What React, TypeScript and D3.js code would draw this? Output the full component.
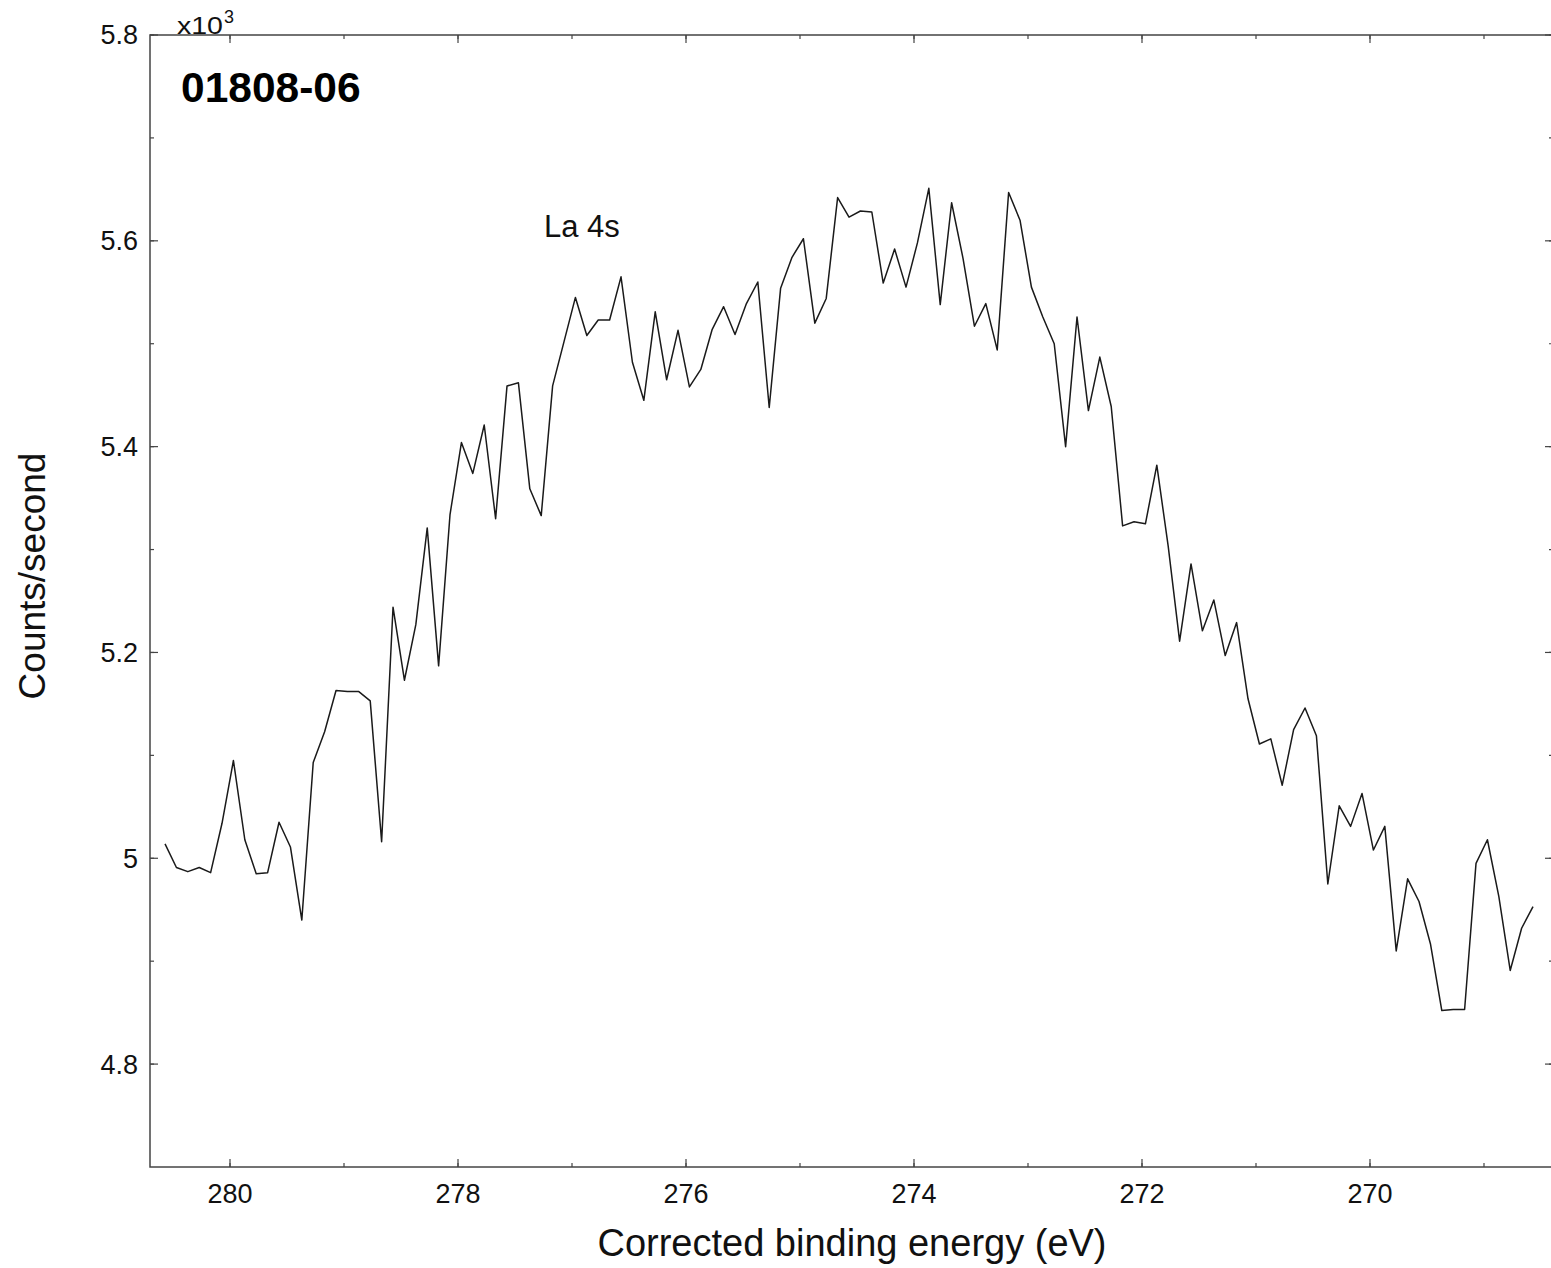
import React from "react";
import * as d3 from "d3";

// Binding energy grid (eV): first point and spacing of the acquisition
const energyStart = 280.57;
const energyStep = -0.1;

// Counts/second (x10^3)
const counts: number[] = [
  5.014, 4.991, 4.987, 4.991, 4.986, 5.034, 5.095, 5.018, 4.985, 4.986,
  5.035, 5.011, 4.940, 5.093, 5.123, 5.163, 5.162, 5.162, 5.153, 5.016,
  5.244, 5.173, 5.227, 5.321, 5.187, 5.334, 5.404, 5.374, 5.421, 5.330,
  5.459, 5.462, 5.359, 5.333, 5.459, 5.502, 5.545, 5.508, 5.523, 5.523,
  5.565, 5.482, 5.445, 5.531, 5.465, 5.513, 5.458, 5.475, 5.514, 5.536,
  5.509, 5.539, 5.560, 5.438, 5.554, 5.584, 5.602, 5.520, 5.544, 5.642,
  5.623, 5.629, 5.628, 5.559, 5.592, 5.555, 5.598, 5.651, 5.538, 5.637,
  5.583, 5.517, 5.539, 5.494, 5.647, 5.620, 5.555, 5.526, 5.500, 5.400,
  5.526, 5.435, 5.487, 5.439, 5.323, 5.327, 5.325, 5.382, 5.303, 5.211,
  5.286, 5.221, 5.251, 5.197, 5.229, 5.155, 5.111, 5.116, 5.071, 5.125,
  5.146, 5.119, 4.975, 5.051, 5.031, 5.063, 5.008, 5.031, 4.910, 4.980,
  4.958, 4.917, 4.852, 4.853, 4.853, 4.995, 5.018, 4.963, 4.891, 4.932,
  4.953,
];

const xMajorTicks = [280, 278, 276, 274, 272, 270];
const xMinorTicks = [280, 279, 278, 277, 276, 275, 274, 273, 272, 271, 270, 269];
const yMajorTicks = [4.8, 5.0, 5.2, 5.4, 5.6, 5.8];
const yMinorTicks = [4.8, 4.9, 5.0, 5.1, 5.2, 5.3, 5.4, 5.5, 5.6, 5.7, 5.8];

const sampleName = "01808-06";
const peakLabel = "La 4s";
const xTitle = "Corrected binding energy (eV)";
const yTitle = "Counts/second";

export default function App() {
  const W = 1551, H = 1268;
  const left = 150, right = 1553, top = 35, bottom = 1167;
  const font = "Liberation Sans, Arial, Helvetica, sans-serif";
  const axisColor = "#444";

  const x = d3.scaleLinear().domain([280.7018, 268.3947]).range([left, right]);
  const y = d3.scaleLinear().domain([4.7, 5.8]).range([bottom, top]);

  const pts = counts.map((c, i) => [energyStart + energyStep * i, c] as [number, number]);
  const line = d3.line<[number, number]>().x(d => x(d[0])).y(d => y(d[1]));

  const fmtY = (v: number) => (Math.abs(v - 5) < 1e-9 ? "5" : v.toFixed(1));
  const majLen = 8, minLen = 4;

  return (
    <svg width={W} height={H} style={{ position: "absolute", left: 0, top: 0, background: "#fff" }}>
      <rect x={0} y={0} width={W} height={H} fill="#fff" />
      {/* frame */}
      <rect x={left} y={top} width={right - left} height={bottom - top} fill="none" stroke={axisColor} strokeWidth={1.5} />
      {/* x ticks */}
      {xMinorTicks.map(t => (
        <g key={"xm" + t}>
          <line x1={x(t)} x2={x(t)} y1={bottom} y2={bottom - minLen} stroke={axisColor} strokeWidth={1.2} />
          <line x1={x(t)} x2={x(t)} y1={top} y2={top + minLen} stroke={axisColor} strokeWidth={1.2} />
        </g>
      ))}
      {xMajorTicks.map(t => (
        <g key={"xM" + t}>
          <line x1={x(t)} x2={x(t)} y1={bottom} y2={bottom - majLen} stroke={axisColor} strokeWidth={1.2} />
          <line x1={x(t)} x2={x(t)} y1={top} y2={top + majLen} stroke={axisColor} strokeWidth={1.2} />
          <text x={x(t)} y={bottom + 36} textAnchor="middle" fontFamily={font} fontSize={27} fill="#111">{t}</text>
        </g>
      ))}
      {/* y ticks */}
      {yMinorTicks.map(t => (
        <g key={"ym" + t}>
          <line x1={left} x2={left + minLen} y1={y(t)} y2={y(t)} stroke={axisColor} strokeWidth={1.2} />
          <line x1={right} x2={right - minLen} y1={y(t)} y2={y(t)} stroke={axisColor} strokeWidth={1.2} />
        </g>
      ))}
      {yMajorTicks.map(t => (
        <g key={"yM" + t}>
          <line x1={left} x2={left + majLen} y1={y(t)} y2={y(t)} stroke={axisColor} strokeWidth={1.2} />
          <line x1={right} x2={right - majLen} y1={y(t)} y2={y(t)} stroke={axisColor} strokeWidth={1.2} />
          <text x={left - 12} y={y(t)} dy="0.35em" textAnchor="end" fontFamily={font} fontSize={27} fill="#111">{fmtY(t)}</text>
        </g>
      ))}
      {/* multiplier */}
      <text x={177} y={34} fontFamily={font} fontSize={23} fill="#111" textLength={46} lengthAdjust="spacingAndGlyphs">x10</text>
      <text x={224} y={23} fontFamily={font} fontSize={18} fill="#111" textLength={10} lengthAdjust="spacingAndGlyphs">3</text>
      {/* data */}
      <path d={line(pts) || ""} fill="none" stroke="#1a1a1a" strokeWidth={1.5} strokeLinejoin="round" />
      {/* labels */}
      <text x={181} y={102} fontFamily={font} fontSize={42.5} fontWeight="bold" fill="#000">{sampleName}</text>
      <text x={544} y={237} fontFamily={font} fontSize={31} fill="#111">{peakLabel}</text>
      <text x={852} y={1256} textAnchor="middle" fontFamily={font} fontSize={38} fill="#111">{xTitle}</text>
      <text transform={`translate(45, ${576}) rotate(-90)`} textAnchor="middle" fontFamily={font} fontSize={37} fill="#111">{yTitle}</text>
    </svg>
  );
}
